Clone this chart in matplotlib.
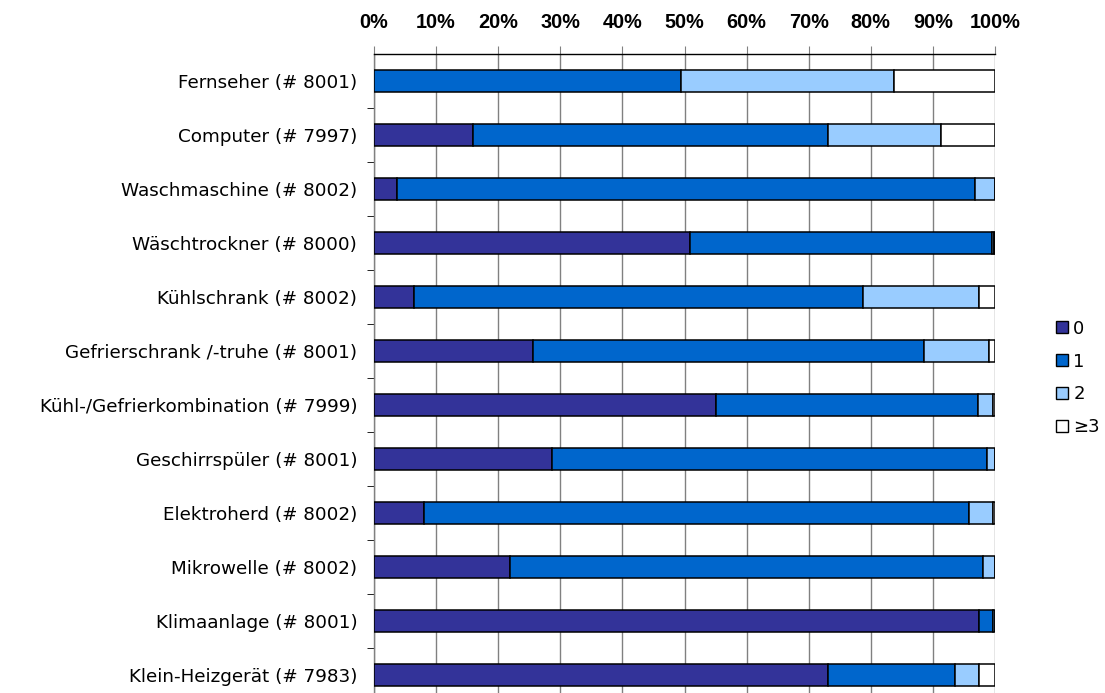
import matplotlib
matplotlib.use("Agg")
import matplotlib.pyplot as plt
import numpy as np
from matplotlib.patches import Patch

categories = [
    "Fernseher (# 8001)",
    "Computer (# 7997)",
    "Waschmaschine (# 8002)",
    "Wäschtrockner (# 8000)",
    "Kühlschrank (# 8002)",
    "Gefrierschrank /-truhe (# 8001)",
    "Kühl-/Gefrierkombination (# 7999)",
    "Geschirrspüler (# 8001)",
    "Elektroherd (# 8002)",
    "Mikrowelle (# 8002)",
    "Klimaanlage (# 8001)",
    "Klein-Heizgerät (# 7983)",
]
series_names = ["0", "1", "2", "≥3"]
s0 = [0.0, 15.9, 3.7, 50.9, 6.4, 25.6, 55.1, 28.7, 8.0, 21.9, 97.5, 73.1]
s1 = [49.4, 57.2, 93.1, 48.6, 72.4, 63.0, 42.2, 70.0, 87.8, 76.1, 2.2, 20.4]
s2 = [34.4, 18.2, 3.2, 0.4, 18.7, 10.5, 2.4, 1.3, 3.9, 2.0, 0.3, 4.0]
s3 = [16.2, 8.7, 0.0, 0.1, 2.5, 0.9, 0.3, 0.0, 0.3, 0.0, 0.0, 2.5]
xticklabels = ["0%", "10%", "20%", "30%", "40%", "50%", "60%", "70%", "80%", "90%", "100%"]

colors = ["#333399", "#0066CC", "#99CCFF", "#FFFFFF"]

W, H = 1105, 693
fig = plt.figure(figsize=(W / 100, H / 100), dpi=100)
left, right, top, bottom = 374, 995, 54, 702
ax = fig.add_axes([left / W, 1 - bottom / H, (right - left) / W, (bottom - top) / H])

y = np.arange(len(categories))
data = [s0, s1, s2, s3]
lefts = np.zeros(len(categories))
for vals, col, name in zip(data, colors, series_names):
    vals = np.array(vals)
    ax.barh(y, vals, left=lefts, height=0.42, color=col, edgecolor="black",
            linewidth=1.1, label=name, zorder=3)
    lefts = lefts + vals

ax.set_xlim(0, 100)
ax.set_ylim(len(categories) - 0.5, -0.5)
ax.set_xticks(np.arange(0, 101, 10))
ax.set_xticklabels(xticklabels, fontfamily="Liberation Sans", fontweight="bold", fontsize=14.3)
ax.xaxis.tick_top()
ax.tick_params(axis="x", which="major", direction="out", length=6, color="#808080",
               pad=9.5)
ax.grid(axis="x", color="#808080", linewidth=1.0, zorder=0)

ax.set_yticks(y)
ax.set_yticklabels(categories, fontfamily="DejaVu Sans", fontsize=13.2)
ax.set_yticks(np.arange(len(categories)) + 0.5, minor=True)
ax.tick_params(axis="y", which="major", length=0, pad=12)
ax.tick_params(axis="y", which="minor", length=5, color="black", direction="out")

for s in ["right", "bottom"]:
    ax.spines[s].set_visible(False)
ax.spines["top"].set_color("black")
ax.spines["top"].set_linewidth(1.0)
ax.spines["left"].set_color("#808080")
ax.spines["left"].set_linewidth(1.0)

handles = [Patch(facecolor=c, edgecolor="black", linewidth=1.0) for c in colors]
fig.legend(handles, series_names, loc="center left",
           bbox_to_anchor=(1056 / W, 1 - 378 / H), frameon=False,
           prop={"family": "DejaVu Sans", "size": 13},
           handlelength=0.65, handleheight=0.65, handletextpad=0.3, labelspacing=0.82,
           borderaxespad=0, borderpad=0)

fig.savefig("out.png", dpi=100)
